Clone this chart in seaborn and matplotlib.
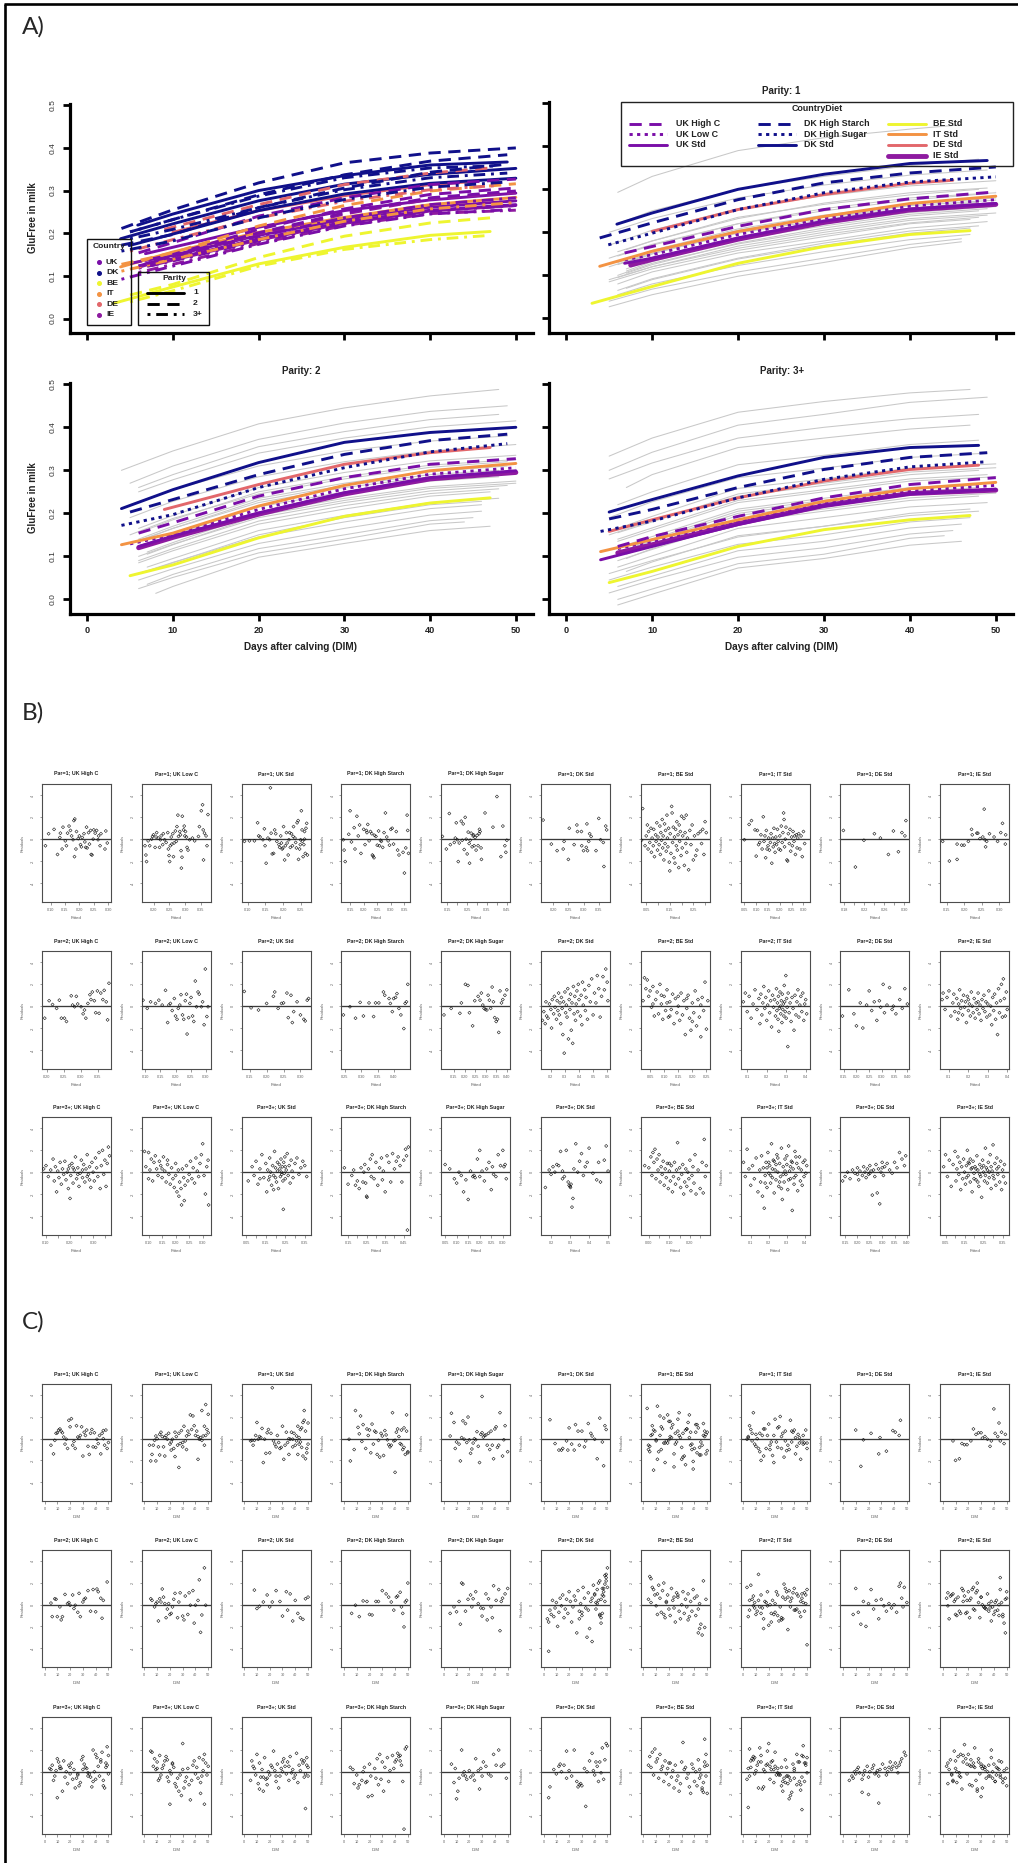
import numpy as np
import pandas as pd
import matplotlib
matplotlib.use("Agg")
import matplotlib.pyplot as plt
import seaborn as sns
from matplotlib.patches import Rectangle

sns.set_style("white")
plt.rcParams["font.family"] = ["Liberation Sans", "DejaVu Sans"]

# ---------------------------------------------------------------- categories
DIETS = ["UK High C", "UK Low C", "UK Std", "DK High Starch", "DK High Sugar",
         "DK Std", "BE Std", "IT Std", "DE Std", "IE Std"]
DIET_COUNTRY = ["UK", "UK", "UK", "DK", "DK", "DK", "BE", "IT", "DE", "IE"]
DIET_STYLE = ["dash", "dot", "solid", "dash", "dot", "solid", "solid", "solid", "solid", "solid"]
COUNTRIES = ["UK", "DK", "BE", "IT", "DE", "IE"]
PARITY_LABELS = ["1", "2", "3+"]

# ---------------------------------------------------------------- panel A : mean curves (DIM, GluFree)
P1_DIM = [[6.8, 10, 20, 30, 40, 50], [6.8, 10, 20, 30, 40, 50], [6.8, 10, 20, 30, 40, 50],
          [3.9, 10, 20, 30, 40, 50], [4.9, 10, 20, 30, 40, 50], [5.9, 10, 20, 30, 40, 49],
          [3, 10, 20, 30, 40, 47], [3.9, 10, 20, 30, 40, 50], [10, 20, 30, 40, 45],
          [7.5, 10, 20, 30, 40, 50]]
P1_VAL = [[0.152, 0.167, 0.214, 0.253, 0.278, 0.294], [0.136, 0.148, 0.195, 0.232, 0.261, 0.276],
          [0.128, 0.140, 0.187, 0.226, 0.254, 0.267], [0.187, 0.222, 0.276, 0.315, 0.338, 0.352],
          [0.171, 0.198, 0.253, 0.292, 0.317, 0.329], [0.219, 0.245, 0.300, 0.335, 0.360, 0.367],
          [0.035, 0.074, 0.128, 0.167, 0.195, 0.204], [0.121, 0.156, 0.202, 0.237, 0.267, 0.284],
          [0.202, 0.253, 0.288, 0.314, 0.321], [0.124, 0.137, 0.184, 0.223, 0.252, 0.265]]
P2_DIM = [[6, 10, 20, 30, 40, 50], [5, 10, 20, 30, 40, 50], [6, 10, 20, 30, 40, 50],
          [5, 10, 20, 30, 40, 49], [4, 10, 20, 30, 40, 49], [4, 10, 20, 30, 40, 50],
          [5, 10, 20, 30, 40, 47], [4, 10, 20, 30, 40, 50], [9, 20, 30, 40, 47],
          [6, 10, 20, 30, 40, 50]]
P2_VAL = [[0.154, 0.178, 0.240, 0.283, 0.314, 0.327], [0.129, 0.150, 0.209, 0.257, 0.291, 0.306],
          [0.123, 0.147, 0.201, 0.248, 0.283, 0.299], [0.203, 0.232, 0.290, 0.337, 0.369, 0.384],
          [0.172, 0.197, 0.260, 0.306, 0.343, 0.362], [0.211, 0.255, 0.318, 0.365, 0.388, 0.400],
          [0.055, 0.080, 0.143, 0.193, 0.224, 0.236], [0.127, 0.154, 0.217, 0.265, 0.299, 0.316],
          [0.209, 0.267, 0.314, 0.341, 0.353], [0.120, 0.144, 0.198, 0.245, 0.280, 0.295]]
P3_DIM = [[6, 10, 20, 30, 40, 50], [6, 10, 20, 30, 40, 50], [4, 10, 20, 30, 40, 50],
          [5, 10, 20, 30, 40, 49], [4, 10, 20, 30, 40, 49], [5, 10, 20, 30, 40, 48],
          [5, 10, 20, 30, 40, 47], [4, 10, 20, 30, 40, 50], [5, 10, 20, 30, 40, 48],
          [6, 10, 20, 30, 40, 50]]
P3_VAL = [[0.123, 0.146, 0.193, 0.236, 0.267, 0.283], [0.118, 0.135, 0.182, 0.223, 0.252, 0.265],
          [0.092, 0.123, 0.174, 0.217, 0.245, 0.256], [0.187, 0.209, 0.260, 0.302, 0.330, 0.341],
          [0.158, 0.182, 0.236, 0.279, 0.308, 0.320], [0.203, 0.232, 0.287, 0.330, 0.353, 0.358],
          [0.039, 0.065, 0.123, 0.162, 0.185, 0.195], [0.111, 0.139, 0.185, 0.228, 0.257, 0.272],
          [0.158, 0.185, 0.236, 0.275, 0.302, 0.312], [0.108, 0.127, 0.176, 0.218, 0.246, 0.254]]

# individual cow curves (grey): first / last DIM and values at first DIM, 10, 20, 30, 40, last DIM
GRAY_MID_DIM = [10, 20, 30, 40]
P1_GRAY_SPAN = [[6, 46], [6, 48], [5, 49], [5, 50], [6, 48], [5, 49], [6, 50], [5, 48], [7, 49],
                [6, 50], [5, 48], [6, 49], [7, 47], [6, 47], [5, 46], [5, 46], [7, 50], [8, 50],
                [6, 50], [7, 48], [6, 49], [5, 47], [6, 50], [7, 49], [6, 48]]
P1_GRAY_VAL = [[0.293, 0.33, 0.39, 0.42, 0.44, 0.45], [0.22, 0.25, 0.30, 0.33, 0.355, 0.37],
               [0.20, 0.232, 0.28, 0.31, 0.333, 0.345], [0.17, 0.205, 0.255, 0.285, 0.308, 0.32],
               [0.155, 0.18, 0.235, 0.265, 0.287, 0.30], [0.14, 0.172, 0.22, 0.25, 0.275, 0.29],
               [0.13, 0.158, 0.208, 0.24, 0.265, 0.28], [0.12, 0.152, 0.198, 0.23, 0.256, 0.27],
               [0.11, 0.132, 0.183, 0.215, 0.242, 0.255], [0.10, 0.128, 0.173, 0.205, 0.232, 0.245],
               [0.09, 0.12, 0.163, 0.195, 0.222, 0.235], [0.08, 0.108, 0.152, 0.18, 0.21, 0.225],
               [0.07, 0.09, 0.138, 0.17, 0.198, 0.21], [0.055, 0.08, 0.123, 0.155, 0.183, 0.195],
               [0.04, 0.068, 0.108, 0.14, 0.172, 0.185], [0.027, 0.055, 0.098, 0.13, 0.164, 0.178],
               [0.115, 0.137, 0.188, 0.22, 0.246, 0.26], [0.135, 0.15, 0.205, 0.235, 0.256, 0.265],
               [0.125, 0.15, 0.20, 0.235, 0.262, 0.275], [0.105, 0.125, 0.175, 0.21, 0.238, 0.25],
               [0.095, 0.12, 0.168, 0.20, 0.228, 0.24], [0.085, 0.115, 0.158, 0.19, 0.22, 0.23],
               [0.145, 0.17, 0.22, 0.255, 0.28, 0.292], [0.16, 0.18, 0.232, 0.268, 0.292, 0.303],
               [0.065, 0.092, 0.14, 0.175, 0.203, 0.215]]
P2_GRAY_SPAN = [[4, 48], [5, 49], [6, 48], [6, 50], [5, 49], [5, 50], [6, 50], [5, 49], [6, 48], [6, 48],
                [7, 50], [6, 49], [6, 47], [7, 48], [6, 46], [6, 46], [7, 45], [6, 44], [8, 47],
                [6, 49], [7, 50], [6, 48], [5, 47], [6, 50], [7, 46]]
P2_GRAY_VAL = [[0.30, 0.345, 0.408, 0.445, 0.473, 0.488], [0.27, 0.31, 0.372, 0.41, 0.437, 0.45],
               [0.26, 0.29, 0.355, 0.39, 0.418, 0.43], [0.25, 0.278, 0.34, 0.375, 0.401, 0.415],
               [0.22, 0.255, 0.31, 0.345, 0.368, 0.38], [0.19, 0.228, 0.285, 0.32, 0.345, 0.36],
               [0.165, 0.195, 0.26, 0.295, 0.322, 0.335], [0.15, 0.188, 0.245, 0.28, 0.307, 0.32],
               [0.135, 0.165, 0.23, 0.265, 0.29, 0.30], [0.12, 0.15, 0.215, 0.25, 0.275, 0.285],
               [0.11, 0.132, 0.20, 0.235, 0.262, 0.275], [0.10, 0.128, 0.19, 0.225, 0.252, 0.265],
               [0.085, 0.113, 0.175, 0.21, 0.24, 0.25], [0.075, 0.095, 0.16, 0.195, 0.225, 0.235],
               [0.06, 0.086, 0.145, 0.18, 0.211, 0.22], [0.045, 0.071, 0.13, 0.165, 0.196, 0.205],
               [0.035, 0.058, 0.118, 0.15, 0.183, 0.19], [0.025, 0.051, 0.108, 0.14, 0.175, 0.18],
               [0.014, 0.03, 0.098, 0.13, 0.16, 0.17], [0.14, 0.17, 0.235, 0.27, 0.297, 0.31],
               [0.105, 0.127, 0.195, 0.23, 0.258, 0.27], [0.09, 0.118, 0.182, 0.218, 0.246, 0.257],
               [0.13, 0.165, 0.225, 0.26, 0.285, 0.295], [0.155, 0.185, 0.25, 0.285, 0.312, 0.325],
               [0.065, 0.085, 0.15, 0.19, 0.22, 0.228]]
P3_GRAY_SPAN = [[5, 47], [5, 49], [5, 48], [7, 47], [6, 48], [5, 49], [6, 50], [5, 48], [6, 50], [6, 49],
                [7, 50], [6, 48], [6, 49], [7, 48], [5, 47], [6, 46], [5, 45], [6, 44], [6, 46],
                [6, 49], [7, 50], [6, 48], [5, 47], [6, 50], [8, 48]]
P3_GRAY_VAL = [[0.333, 0.375, 0.435, 0.46, 0.48, 0.488], [0.30, 0.342, 0.405, 0.43, 0.458, 0.47],
               [0.28, 0.317, 0.375, 0.40, 0.42, 0.43], [0.26, 0.29, 0.353, 0.375, 0.396, 0.405],
               [0.22, 0.25, 0.313, 0.335, 0.36, 0.37], [0.19, 0.227, 0.283, 0.305, 0.33, 0.34],
               [0.165, 0.193, 0.258, 0.28, 0.305, 0.315], [0.15, 0.183, 0.24, 0.265, 0.29, 0.30],
               [0.135, 0.161, 0.225, 0.25, 0.275, 0.285], [0.12, 0.146, 0.21, 0.235, 0.26, 0.27],
               [0.105, 0.128, 0.195, 0.22, 0.245, 0.255], [0.09, 0.116, 0.18, 0.205, 0.23, 0.24],
               [0.075, 0.101, 0.165, 0.19, 0.215, 0.225], [0.065, 0.087, 0.148, 0.17, 0.195, 0.205],
               [0.045, 0.075, 0.128, 0.15, 0.18, 0.19], [0.03, 0.054, 0.113, 0.135, 0.166, 0.175],
               [0.015, 0.045, 0.098, 0.12, 0.152, 0.16], [0.0, 0.024, 0.083, 0.105, 0.142, 0.148],
               [-0.013, 0.012, 0.073, 0.095, 0.126, 0.135], [0.14, 0.166, 0.23, 0.255, 0.28, 0.29],
               [0.095, 0.118, 0.185, 0.21, 0.236, 0.247], [0.11, 0.136, 0.20, 0.225, 0.25, 0.26],
               [0.06, 0.09, 0.145, 0.17, 0.20, 0.21], [0.155, 0.18, 0.245, 0.27, 0.296, 0.306],
               [0.125, 0.14, 0.205, 0.23, 0.256, 0.266]]

# ---------------------------------------------------------------- panels B/C : residual points (fitted, DIM, residual)
P1_UK_HIGH_C = [(0.082,5,-0.6),(0.093,9,0.5),(0.112,12,0.9),(0.124,7,-1.4),(0.132,15,0.15),(0.134,10,0.55),(0.140,18,-0.9),(0.143,20,1.1),(0.151,8,-0.15),(0.155,22,-0.6),(0.159,14,0.55),(0.164,25,1.2),(0.169,11,0.8),(0.173,28,0.3),(0.178,17,-0.05),(0.181,19,1.7),(0.184,21,1.85),(0.183,30,-1.6),(0.188,24,-0.9),(0.190,13,0.7),(0.196,27,0.05),(0.200,32,0.3),(0.204,16,-0.5),(0.207,34,-0.7),(0.210,26,0.15),(0.216,36,0.5),(0.219,23,-0.25),(0.222,38,-0.75),(0.225,29,1.1),(0.227,40,-0.8),(0.232,31,0.6),(0.235,42,-0.45),(0.239,33,0.8),(0.241,44,-1.4),(0.244,35,-1.45),(0.248,46,0.0),(0.250,37,0.85),(0.255,39,0.55),(0.260,48,0.8),(0.265,41,-0.05),(0.267,43,0.3),(0.272,47,-0.6),(0.275,45,0.5),(0.289,49,-0.9),(0.297,50,-0.35),(0.292,46,0.75)]
P1_UK_LOW_C = [(0.173,4,-0.6),(0.176,6,-1.45),(0.178,5,-2.05),(0.183,8,-0.15),(0.188,7,-0.6),(0.194,10,0.0),(0.197,9,0.25),(0.200,12,0.4),(0.205,11,-0.75),(0.208,14,0.2),(0.210,13,0.6),(0.215,16,0.1),(0.219,15,-0.75),(0.222,18,-0.05),(0.224,17,0.3),(0.229,20,-0.5),(0.231,19,0.5),(0.235,22,-0.05),(0.240,21,-0.3),(0.245,24,0.6),(0.247,23,-0.9),(0.249,12,-1.5),(0.251,9,-2.05),(0.253,26,-0.6),(0.256,25,0.2),(0.258,28,-0.45),(0.261,27,0.5),(0.263,16,-1.6),(0.265,30,-0.35),(0.269,29,0.75),(0.272,32,-0.2),(0.274,31,1.15),(0.277,36,2.2),(0.279,33,0.25),(0.283,34,0.7),(0.285,35,0.4),(0.287,21,-1.05),(0.288,27,-2.65),(0.290,24,-1.65),(0.291,38,2.1),(0.295,37,0.85),(0.297,39,1.2),(0.299,40,0.3),(0.301,41,0.7),(0.304,42,0.2),(0.306,30,-0.75),(0.309,33,-1.0),(0.314,43,-0.05),(0.323,44,0.1),(0.330,45,-0.15),(0.342,46,0.25),(0.345,47,1.15),(0.351,45,2.6),(0.355,48,3.15),(0.357,49,0.85),(0.358,42,-1.9),(0.361,50,0.55),(0.366,48,0.3),(0.369,47,-0.6),(0.372,50,2.25)]
P1_UK_STD = [(0.091,5,-0.2),(0.105,8,-0.15),(0.119,6,-0.15),(0.128,10,1.5),(0.131,9,0.3),(0.135,12,0.2),(0.143,11,-0.05),(0.147,14,0.95),(0.149,7,-0.6),(0.152,15,-2.2),(0.157,13,0.1),(0.162,16,-0.05),(0.164,22,4.7),(0.166,18,0.55),(0.169,17,-1.35),(0.173,20,-1.3),(0.176,19,0.85),(0.179,21,0.5),(0.182,23,-0.2),(0.188,24,-0.5),(0.190,25,-0.75),(0.193,26,0.3),(0.195,27,-0.35),(0.197,28,-0.9),(0.199,29,-0.8),(0.201,30,1.15),(0.204,31,-1.9),(0.206,32,-0.6),(0.209,33,0.6),(0.211,34,-0.35),(0.214,35,-1.45),(0.216,36,-0.05),(0.218,37,0.6),(0.220,38,-0.75),(0.223,39,0.5),(0.226,40,-0.6),(0.228,41,0.25),(0.229,42,1.15),(0.233,43,0.1),(0.235,44,-0.3),(0.237,45,-0.8),(0.239,46,1.5),(0.242,47,1.7),(0.243,48,-1.85),(0.246,49,-0.9),(0.248,50,-0.5),(0.249,38,-0.05),(0.251,47,2.6),(0.253,44,0.85),(0.254,41,-0.2),(0.256,46,-1.6),(0.258,43,-0.5),(0.260,48,0.7),(0.260,35,0.0),(0.262,49,-1.3),(0.264,45,1.0),(0.266,50,1.45),(0.268,42,-1.45)]
P1_DK_HIGH_STARCH = [(0.125,4,-0.05),(0.128,8,-1.0),(0.132,5,-2.05),(0.145,12,0.45),(0.150,9,2.6),(0.155,14,-0.25),(0.165,11,1.05),(0.168,17,-0.9),(0.175,13,2.1),(0.180,19,0.3),(0.185,15,1.3),(0.190,21,-1.3),(0.200,18,0.9),(0.205,23,-0.5),(0.210,20,0.8),(0.212,25,0.6),(0.215,22,1.35),(0.220,27,-0.15),(0.225,24,0.7),(0.230,29,0.5),(0.232,26,-1.45),(0.235,31,-1.55),(0.238,28,-1.7),(0.240,33,0.35),(0.245,30,0.25),(0.250,35,-0.55),(0.255,32,0.75),(0.258,37,-0.6),(0.262,34,-0.1),(0.265,39,-0.2),(0.270,36,-0.75),(0.275,41,0.6),(0.280,38,2.4),(0.285,43,0.2),(0.290,40,-0.15),(0.295,45,-0.55),(0.300,42,0.9),(0.305,47,1.0),(0.310,44,-0.45),(0.320,49,0.7),(0.325,46,-1.0),(0.330,48,-1.45),(0.345,50,-1.2),(0.350,40,-3.1),(0.355,47,-0.8),(0.360,49,2.2),(0.362,45,0.8),(0.365,50,-1.3)]
P1_DK_HIGH_SUGAR = [(0.125,5,0.25),(0.145,9,-0.9),(0.160,6,2.35),(0.165,12,-0.5),(0.185,10,-0.3),(0.190,14,0.1),(0.195,8,1.5),(0.200,16,-0.05),(0.205,13,-2.05),(0.210,18,-0.35),(0.220,15,1.65),(0.225,20,-0.1),(0.230,17,1.4),(0.235,22,-0.95),(0.240,19,2.0),(0.245,24,0.0),(0.250,21,-1.35),(0.255,26,0.65),(0.260,23,-0.4),(0.262,28,-2.2),(0.265,25,-0.1),(0.270,30,0.55),(0.275,27,-0.7),(0.280,32,0.3),(0.282,29,0.4),(0.285,34,-0.6),(0.290,31,0.15),(0.295,36,-1.0),(0.300,33,0.35),(0.305,38,-0.6),(0.310,35,0.5),(0.312,40,0.9),(0.315,37,0.7),(0.320,42,-0.8),(0.322,39,-1.85),(0.340,44,2.4),(0.380,41,1.1),(0.400,30,3.9),(0.420,46,-1.6),(0.430,48,1.2),(0.440,43,-0.6),(0.445,50,-1.2),(0.450,47,-0.1)]
P1_DK_STD = [(0.167,5,1.75),(0.194,9,-0.45),(0.213,12,-1.05),(0.233,15,-0.9),(0.236,18,-0.2),(0.250,42,-1.85),(0.253,20,1.0),(0.269,22,-0.5),(0.278,25,1.3),(0.280,27,0.7),(0.293,30,0.7),(0.294,28,-0.6),(0.300,24,-1.05),(0.309,32,-0.75),(0.311,35,1.4),(0.313,19,-1.05),(0.317,33,-0.2),(0.320,37,0.5),(0.325,38,0.25),(0.341,14,-1.05),(0.350,44,1.9),(0.356,40,-0.05),(0.365,46,-0.3),(0.367,47,-2.5),(0.373,48,1.2),(0.376,49,0.85)]
P1_BE_STD = [(0.035,3,2.8),(0.03,20,-0.1),(0.045,37,-0.6),(0.05,6,0.3),(0.055,23,1.3),(0.058,40,-0.9),(0.06,9,0.7),(0.065,26,-0.3),(0.07,43,1.0),(0.072,12,-1.2),(0.075,29,0.1),(0.08,46,-0.6),(0.082,15,0.9),(0.085,32,-1.6),(0.09,49,0.4),(0.092,18,-0.2),(0.095,35,1.5),(0.098,4,-1.0),(0.1,21,0.2),(0.105,38,-0.5),(0.108,7,1.2),(0.11,24,-1.4),(0.112,41,0.6),(0.115,10,-0.1),(0.118,27,1.8),(0.12,44,-0.8),(0.122,13,0.3),(0.125,30,-1.9),(0.128,47,1.4),(0.13,16,-0.4),(0.132,33,0.8),(0.135,50,-1.1),(0.138,19,2.2),(0.14,36,0.1),(0.142,5,-0.7),(0.145,22,1.0),(0.148,39,-2.1),(0.15,8,-2.9),(0.152,25,0.5),(0.155,42,-1.3),(0.158,11,3.0),(0.16,28,2.4),(0.162,45,-0.3),(0.165,14,1.1),(0.168,31,-1.7),(0.17,48,0.2),(0.172,17,-2.2),(0.175,34,0.9),(0.178,4,-0.6),(0.18,21,1.6),(0.182,38,-1.0),(0.185,7,0.4),(0.188,24,-2.6),(0.19,41,1.3),(0.192,10,-0.2),(0.195,27,0.7),(0.198,44,-1.5),(0.2,13,2.1),(0.203,30,-0.8),(0.205,47,0.3),(0.21,16,1.9),(0.212,33,-2.4),(0.215,50,0.6),(0.218,19,-0.4),(0.22,36,2.2),(0.222,5,-1.2),(0.225,22,0.1),(0.23,39,-2.8),(0.235,8,0.8),(0.24,25,-0.5),(0.245,42,1.3),(0.25,11,-1.9),(0.255,28,0.3),(0.26,45,-1.5),(0.265,14,-1.0),(0.27,31,0.5),(0.28,48,0.7),(0.285,17,-0.4),(0.29,34,0.9),(0.295,49,-1.4),(0.3,20,1.6),(0.305,37,0.6)]
P1_IT_STD = [(0.05,3,-0.05),(0.07,20,1.35),(0.08,37,1.7),(0.095,6,0.85),(0.1,23,-1.55),(0.105,40,0.8),(0.11,9,-0.5),(0.115,26,-0.3),(0.12,43,0.4),(0.125,12,-0.9),(0.13,29,2.05),(0.133,46,-0.2),(0.137,15,0.3),(0.14,32,-1.7),(0.143,49,0.8),(0.146,18,-0.9),(0.15,35,-0.6),(0.153,4,0.1),(0.156,21,-1.0),(0.16,38,-0.3),(0.163,7,0.5),(0.166,24,-2.2),(0.17,41,0.1),(0.172,10,-0.7),(0.175,27,1.0),(0.178,44,-0.4),(0.18,13,-1.2),(0.183,30,0.2),(0.186,47,-0.5),(0.19,16,0.9),(0.193,33,-0.2),(0.196,50,-0.9),(0.2,19,0.3),(0.203,36,-1.0),(0.206,5,1.2),(0.21,22,-0.3),(0.213,39,0.6),(0.216,8,2.4),(0.218,25,1.8),(0.22,42,-0.7),(0.223,11,0.0),(0.226,28,1.1),(0.23,45,-1.9),(0.233,14,-2.0),(0.236,31,0.5),(0.24,48,-0.4),(0.243,17,0.9),(0.246,34,-1.1),(0.25,4,0.2),(0.253,21,-0.6),(0.256,38,0.7),(0.26,7,-0.2),(0.263,24,0.3),(0.266,41,-1.4),(0.27,10,0.4),(0.273,27,-0.8),(0.276,44,0.1),(0.28,13,0.5),(0.285,30,-0.9),(0.29,47,0.3),(0.295,16,-1.6),(0.3,33,0.7),(0.305,50,-0.4)]
P1_DE_STD = [(0.178,10,0.8),(0.202,14,-2.55),(0.219,16,-0.1),(0.24,22,0.5),(0.252,29,0.1),(0.268,28,-1.4),(0.278,39,0.75),(0.288,34,-1.15),(0.295,41,0.6),(0.301,44,0.3),(0.303,45,1.7)]
P1_IE_STD = [(0.139,8,-0.2),(0.158,10,-2.0),(0.18,13,-1.85),(0.18,15,-0.45),(0.193,17,-0.55),(0.2,19,-0.55),(0.212,22,-0.2),(0.221,24,0.9),(0.223,26,0.4),(0.236,28,0.55),(0.239,30,0.55),(0.245,31,0.05),(0.253,33,0.2),(0.257,40,2.75),(0.259,35,-0.05),(0.261,37,-0.7),(0.264,38,-0.2),(0.272,41,0.5),(0.285,43,0.2),(0.295,45,-0.2),(0.304,46,0.6),(0.309,44,1.45),(0.317,48,-0.45),(0.318,49,0.4)]

P2_UK_HIGH_C = [(0.194,6,-1.1),(0.207,9,0.5),(0.217,5,0.15),(0.229,12,-0.2),(0.237,8,0.55),(0.243,14,-1.1),(0.252,10,-1.1),(0.258,13,-1.4),(0.272,16,0.95),(0.276,18,0.1),(0.282,20,-0.05),(0.287,22,0.9),(0.291,19,0.2),(0.301,24,-0.05),(0.307,26,-0.7),(0.311,23,-0.35),(0.315,28,-1.1),(0.321,30,0.25),(0.327,27,1.05),(0.330,32,0.6),(0.334,34,1.3),(0.340,31,0.5),(0.344,36,-0.6),(0.349,38,1.4),(0.354,40,-0.65),(0.359,42,1.2),(0.365,44,0.6),(0.369,41,1.45),(0.375,46,0.4),(0.379,45,-1.25),(0.383,49,2.1)]
P2_UK_LOW_C = [(0.093,5,0.55),(0.107,8,-0.2),(0.118,6,0.4),(0.134,10,0.25),(0.145,12,0.55),(0.156,9,0.1),(0.167,14,1.45),(0.174,11,-1.5),(0.178,16,0.1),(0.183,13,0.25),(0.189,18,-0.4),(0.196,15,0.7),(0.200,20,-0.9),(0.205,17,-1.2),(0.209,22,-0.2),(0.214,19,0.1),(0.218,24,1.05),(0.223,21,-0.8),(0.227,26,-1.2),(0.232,23,0.5),(0.236,28,1.1),(0.238,44,-2.55),(0.243,30,-1.05),(0.247,27,0.25),(0.251,32,0.8),(0.256,34,-0.9),(0.260,31,-1.4),(0.265,43,2.3),(0.269,36,-0.05),(0.274,38,1.3),(0.278,35,1.1),(0.285,40,-0.05),(0.289,42,0.4),(0.294,39,-1.7),(0.298,47,3.4),(0.303,45,-0.95),(0.307,48,-0.05)]
P2_UK_STD = [(0.134,8,1.35),(0.154,12,-0.15),(0.176,10,-0.35),(0.200,15,0.25),(0.220,18,0.9),(0.224,25,1.3),(0.234,20,-0.2),(0.244,22,0.25),(0.250,28,0.3),(0.260,33,1.2),(0.264,30,-1.05),(0.272,36,1.0),(0.276,38,-1.5),(0.280,34,-0.5),(0.290,40,0.4),(0.300,42,-0.8),(0.310,44,-1.2),(0.314,46,-1.35),(0.320,48,0.55),(0.324,50,0.7)]
P2_DK_HIGH_STARCH = [(0.246,6,-0.8),(0.266,9,-0.05),(0.283,12,-1.1),(0.297,15,0.35),(0.307,20,-0.9),(0.324,18,0.3),(0.338,22,-0.95),(0.344,25,0.3),(0.354,27,0.3),(0.368,30,1.3),(0.372,33,1.0),(0.385,35,0.7),(0.389,37,0.25),(0.395,39,-0.5),(0.399,41,0.7),(0.405,42,0.8),(0.409,44,1.15),(0.415,45,-0.2),(0.421,46,-0.8),(0.430,47,-2.05),(0.434,48,0.25),(0.438,49,0.4),(0.442,50,2.0)]
P2_DK_HIGH_SUGAR = [(0.103,5,-0.8),(0.137,8,-0.2),(0.178,10,-0.65),(0.185,12,0.3),(0.204,14,2.0),(0.216,15,1.9),(0.223,17,-0.6),(0.238,13,-1.8),(0.248,19,0.5),(0.264,21,0.9),(0.273,23,0.55),(0.279,25,1.2),(0.286,27,0.1),(0.292,22,-0.2),(0.298,29,-0.3),(0.305,31,-0.35),(0.311,33,1.0),(0.317,35,0.55),(0.323,37,-0.2),(0.330,39,1.75),(0.336,41,0.4),(0.342,30,-1.05),(0.349,34,-1.4),(0.355,38,-1.2),(0.361,44,-2.4),(0.367,43,1.4),(0.374,45,0.3),(0.380,46,0.6),(0.390,48,1.0),(0.399,50,1.5)]
P2_DK_STD = [(0.14,3,-1.3),(0.15,5,-0.5),(0.16,4,-1.6),(0.165,7,0.4),(0.17,6,-0.9),(0.18,8,-1.1),(0.19,10,0.2),(0.2,9,-0.3),(0.205,11,-2.0),(0.21,13,0.6),(0.22,12,-0.7),(0.225,15,0.9),(0.23,14,-0.1),(0.24,16,-1.2),(0.245,18,0.5),(0.25,17,-0.4),(0.255,20,1.2),(0.26,19,-0.8),(0.265,21,0.3),(0.27,22,-1.6),(0.275,24,0.8),(0.28,23,-0.2),(0.285,26,-2.6),(0.29,25,0.4),(0.295,4,-4.3),(0.3,27,1.3),(0.305,28,-0.6),(0.31,29,0.1),(0.315,30,-1.0),(0.32,31,1.6),(0.325,34,-3.0),(0.33,32,0.6),(0.335,33,-0.3),(0.34,35,1.1),(0.345,36,-2.2),(0.35,37,0.3),(0.355,38,-3.4),(0.36,39,1.8),(0.365,30,-0.7),(0.37,40,0.9),(0.375,28,-1.3),(0.38,41,0.2),(0.385,42,1.4),(0.39,35,-0.5),(0.395,43,2.0),(0.4,38,0.6),(0.41,44,-0.9),(0.415,40,1.0),(0.42,45,-1.7),(0.425,44,2.2),(0.43,42,0.1),(0.44,46,1.5),(0.445,41,-0.4),(0.45,47,0.8),(0.46,45,-1.2),(0.47,48,1.9),(0.48,43,0.4),(0.49,49,2.5),(0.5,46,-0.8),(0.51,47,1.2),(0.52,48,0.3),(0.53,49,2.8),(0.54,50,1.6),(0.55,44,-1.0),(0.56,46,0.9),(0.57,48,2.7),(0.58,47,1.5),(0.59,50,3.4),(0.6,49,2.2),(0.605,45,0.5)]
P2_BE_STD = [(0.025,4,0.5),(0.03,5,2.6),(0.035,7,1.6),(0.04,6,2.4),(0.045,9,0.9),(0.05,8,1.4),(0.055,10,-0.1),(0.06,12,1.8),(0.065,11,-0.9),(0.07,13,0.6),(0.075,15,1.3),(0.08,14,-0.7),(0.085,16,2.0),(0.09,18,0.2),(0.095,17,-1.2),(0.1,19,0.9),(0.105,20,-0.4),(0.11,22,1.5),(0.115,21,-1.0),(0.12,23,0.4),(0.125,24,-0.3),(0.13,26,1.1),(0.135,25,-1.6),(0.14,27,0.7),(0.145,28,-0.6),(0.15,30,0.0),(0.155,29,-1.3),(0.16,31,1.2),(0.165,32,-0.8),(0.17,33,0.5),(0.175,43,-2.6),(0.18,34,-0.2),(0.185,35,1.0),(0.19,36,-1.1),(0.195,44,-2.2),(0.2,37,0.3),(0.205,38,-0.6),(0.21,39,1.4),(0.215,45,-1.8),(0.22,40,0.6),(0.225,41,-1.0),(0.23,46,-2.8),(0.235,42,0.8),(0.24,43,-0.4),(0.245,47,2.2),(0.25,48,-2.1),(0.255,49,0.5),(0.18,24,0.7),(0.12,16,-0.9),(0.09,11,1.0),(0.2,35,-1.4),(0.15,27,0.9),(0.11,18,0.3),(0.06,6,0.2),(0.23,44,0.1)]
P2_IT_STD = [(0.08,12,0.4),(0.09,34,1.2),(0.1,5,-0.5),(0.11,27,0.9),(0.12,45,-1.1),(0.13,18,0.2),(0.14,40,1.5),(0.15,9,-0.3),(0.16,31,0.7),(0.165,22,-1.6),(0.17,48,1.1),(0.175,14,-0.8),(0.18,37,0.3),(0.185,6,1.8),(0.19,29,-0.2),(0.195,43,0.8),(0.2,16,-1.3),(0.205,25,0.1),(0.21,50,1.4),(0.215,11,-0.6),(0.22,33,0.5),(0.225,20,-1.9),(0.23,46,1.0),(0.235,8,-0.1),(0.24,38,0.6),(0.245,24,-0.9),(0.25,3,1.6),(0.252,42,-0.4),(0.255,17,0.3),(0.258,30,-1.2),(0.26,49,0.9),(0.262,35,-2.3),(0.265,13,-0.2),(0.268,36,1.3),(0.27,21,0.0),(0.272,44,-0.7),(0.275,7,0.5),(0.278,28,-1.5),(0.28,39,1.1),(0.282,15,-0.3),(0.285,47,0.2),(0.288,10,-0.9),(0.29,32,1.9),(0.292,23,0.4),(0.295,41,-0.5),(0.298,12,2.8),(0.3,4,-1.1),(0.302,35,0.7),(0.305,19,-0.1),(0.308,50,-3.7),(0.31,26,1.2),(0.315,48,-0.6),(0.32,45,0.3),(0.325,30,-1.4),(0.33,8,0.8),(0.335,37,-0.2),(0.34,16,-2.2),(0.345,42,1.0),(0.35,22,-0.8),(0.355,5,0.4),(0.36,33,1.5),(0.365,27,-1.0),(0.37,49,0.1),(0.375,14,0.9),(0.38,40,-0.5),(0.385,19,1.2),(0.39,31,-1.3),(0.395,9,0.2),(0.4,46,0.6),(0.405,25,-0.7)]
P2_DE_STD = [(0.145,8,-0.9),(0.17,10,1.5),(0.19,12,-0.7),(0.2,14,-1.8),(0.215,16,0.3),(0.225,18,-2.0),(0.24,20,0.1),(0.25,22,1.4),(0.26,24,-0.4),(0.27,26,0.4),(0.28,28,-1.3),(0.29,30,0.5),(0.295,32,-0.1),(0.305,45,2.0),(0.31,34,-0.6),(0.32,36,0.1),(0.33,44,1.7),(0.34,38,-0.3),(0.345,40,0.0),(0.355,42,-0.7),(0.37,46,0.6),(0.38,47,-0.2),(0.39,48,1.6),(0.4,50,0.2)]
P2_IE_STD = [(0.065,3,0.6),(0.07,20,1.2),(0.08,37,-0.3),(0.09,6,0.8),(0.1,23,1.4),(0.11,40,-0.9),(0.12,9,0.3),(0.125,26,1.1),(0.13,43,-0.5),(0.14,12,0.7),(0.145,29,-1.2),(0.15,46,0.2),(0.155,15,1.5),(0.16,32,-0.2),(0.165,49,0.5),(0.17,18,-0.8),(0.175,35,1.0),(0.18,4,-0.1),(0.185,21,0.4),(0.19,38,-1.5),(0.195,7,0.9),(0.2,24,-0.4),(0.205,41,0.2),(0.21,10,-0.9),(0.215,27,1.3),(0.22,44,0.0),(0.225,13,-0.6),(0.23,30,0.7),(0.235,47,-1.1),(0.24,16,0.3),(0.245,33,-0.3),(0.25,50,1.2),(0.255,19,-0.7),(0.26,36,0.1),(0.265,5,-1.3),(0.27,22,0.6),(0.275,39,-0.2),(0.28,8,1.0),(0.285,25,-0.5),(0.29,42,0.4),(0.295,11,-1.0),(0.3,28,0.2),(0.305,45,1.4),(0.31,14,-0.8),(0.315,31,0.0),(0.32,48,-1.7),(0.325,17,0.8),(0.33,34,-0.4),(0.335,4,1.1),(0.34,21,-1.2),(0.345,38,0.3),(0.35,49,-2.6),(0.355,24,1.6),(0.36,41,-0.6),(0.365,10,0.5),(0.37,27,2.0),(0.375,44,-1.0),(0.38,45,2.5),(0.385,30,0.7),(0.39,47,-0.9),(0.395,16,1.3),(0.4,33,-0.3),(0.2,50,0.6),(0.25,19,0.4),(0.15,36,-0.6)]

P3_UK_HIGH_C = [(0.09,4,0.3),(0.1,6,0.6),(0.11,8,-0.4),(0.12,5,0.2),(0.13,10,1.2),(0.135,7,-0.8),(0.14,12,0.5),(0.145,14,-1.8),(0.15,9,0.1),(0.155,16,-0.5),(0.16,11,0.9),(0.165,18,-1.1),(0.17,13,0.3),(0.175,20,-0.2),(0.18,15,1.0),(0.185,22,-0.7),(0.19,17,0.0),(0.195,24,-1.5),(0.2,19,0.6),(0.202,10,-2.4),(0.205,26,-0.3),(0.21,21,0.8),(0.215,28,-1.0),(0.22,23,0.2),(0.225,30,1.4),(0.23,25,-0.6),(0.235,32,0.4),(0.24,27,-1.3),(0.245,34,-0.1),(0.25,29,1.1),(0.255,36,-0.5),(0.26,31,0.7),(0.265,38,-0.9),(0.27,33,0.3),(0.275,40,1.6),(0.28,35,-0.2),(0.285,42,0.5),(0.29,37,-1.4),(0.295,44,0.9),(0.3,39,0.0),(0.305,46,-0.8),(0.31,41,1.3),(0.315,48,0.4),(0.32,43,-0.4),(0.325,45,1.8),(0.33,47,-1.5),(0.335,49,0.6),(0.34,38,2.0),(0.345,50,-0.2),(0.35,44,1.1),(0.355,46,-1.3),(0.36,48,0.8),(0.365,49,2.3),(0.37,50,1.5),(0.215,20,0.4),(0.235,26,-0.2),(0.255,30,0.2),(0.275,34,-0.4),(0.195,12,0.3),(0.285,40,-0.7)]
P3_UK_LOW_C = [(0.085,5,1.9),(0.09,7,0.5),(0.1,6,1.8),(0.105,9,0.2),(0.11,8,1.2),(0.115,11,-0.8),(0.12,10,0.9),(0.125,12,1.5),(0.13,14,0.3),(0.135,13,-0.3),(0.14,16,1.0),(0.145,15,0.6),(0.15,18,-0.5),(0.155,17,1.4),(0.16,20,0.1),(0.165,19,-0.9),(0.17,22,0.7),(0.175,21,-0.2),(0.18,24,-1.1),(0.185,23,0.4),(0.19,26,-0.6),(0.195,25,-1.4),(0.2,28,-0.3),(0.205,27,-1.8),(0.21,30,0.2),(0.212,29,-2.2),(0.215,32,-0.9),(0.22,31,-1.5),(0.222,20,-3.0),(0.225,34,0.3),(0.23,33,-0.5),(0.232,36,-2.6),(0.235,35,-1.2),(0.24,38,0.6),(0.245,37,-0.8),(0.25,40,-0.2),(0.255,39,1.0),(0.26,42,-0.6),(0.265,41,0.4),(0.27,44,-1.0),(0.275,43,1.3),(0.28,46,0.1),(0.285,45,-0.4),(0.29,48,0.8),(0.295,47,1.6),(0.3,30,2.6),(0.305,49,-0.3),(0.31,44,-2.0),(0.315,50,0.5),(0.32,46,1.1),(0.322,47,-3.0),(0.1,12,-0.6),(0.17,18,1.1),(0.2,22,0.8),(0.15,10,0.3)]
P3_UK_STD = [(0.06,5,-0.8),(0.08,7,0.5),(0.09,9,-0.3),(0.1,6,1.0),(0.11,11,-1.1),(0.12,8,0.3),(0.13,10,1.6),(0.14,13,-0.5),(0.15,12,0.8),(0.155,15,-1.8),(0.16,14,0.2),(0.165,17,-0.7),(0.17,16,1.3),(0.175,19,0.0),(0.18,18,-1.2),(0.185,21,0.6),(0.19,20,-0.3),(0.195,23,1.9),(0.2,22,0.4),(0.205,25,-0.9),(0.21,24,0.1),(0.215,27,-1.5),(0.22,26,0.7),(0.222,29,0.3),(0.225,28,-0.4),(0.228,31,1.2),(0.23,30,0.0),(0.232,33,-0.2),(0.235,32,0.5),(0.238,35,-0.8),(0.24,48,-3.4),(0.242,34,0.9),(0.245,37,-0.1),(0.248,36,1.4),(0.25,39,-0.6),(0.255,38,0.2),(0.26,41,1.7),(0.265,40,-0.3),(0.27,43,0.6),(0.275,42,-1.0),(0.28,45,1.1),(0.285,44,0.1),(0.29,47,-0.5),(0.3,46,0.8),(0.31,49,1.3),(0.32,48,-0.2),(0.33,50,0.4),(0.34,47,1.0),(0.35,49,0.6),(0.36,50,-0.4),(0.2,15,-0.5),(0.21,30,0.9),(0.19,12,-1.6),(0.17,25,-0.4),(0.25,35,0.5),(0.12,18,-0.6)]
P3_DK_HIGH_STARCH = [(0.13,5,0.4),(0.15,8,-1.1),(0.17,10,-0.3),(0.18,7,0.2),(0.19,12,-1.2),(0.2,14,-0.8),(0.21,11,-1.5),(0.22,16,0.4),(0.23,18,-0.9),(0.235,15,0.0),(0.24,20,0.7),(0.245,17,-1.0),(0.25,22,-2.2),(0.252,19,-2.3),(0.26,24,0.3),(0.27,26,1.2),(0.275,21,-0.4),(0.28,28,1.6),(0.29,25,-0.6),(0.3,30,0.9),(0.31,27,-1.2),(0.32,32,0.4),(0.33,34,1.3),(0.335,29,-0.7),(0.34,36,0.1),(0.35,31,-1.8),(0.36,38,1.5),(0.37,40,0.9),(0.38,35,-0.9),(0.39,42,1.7),(0.4,39,0.3),(0.41,44,1.0),(0.42,43,1.4),(0.43,45,0.6),(0.44,46,-0.9),(0.45,41,1.1),(0.46,48,2.1),(0.465,44,1.5),(0.47,47,-5.3),(0.475,49,2.3)]
P3_DK_HIGH_SUGAR = [(0.05,6,0.7),(0.07,9,0.3),(0.09,12,-0.6),(0.1,8,-1.0),(0.12,15,-0.3),(0.13,11,-1.8),(0.14,18,-0.7),(0.15,10,-2.5),(0.16,20,0.1),(0.17,17,-0.4),(0.175,23,-0.3),(0.18,21,-0.5),(0.19,25,1.2),(0.2,14,2.0),(0.21,27,0.1),(0.22,24,-0.8),(0.23,29,0.3),(0.24,31,0.9),(0.25,28,-1.6),(0.255,33,0.5),(0.26,35,-0.2),(0.27,37,-0.4),(0.28,39,1.6),(0.29,41,0.6),(0.3,43,2.0),(0.305,45,0.5),(0.31,47,0.7),(0.315,49,-0.6),(0.2,30,-0.4),(0.11,16,0.0)]
P3_DK_STD = [(0.17,5,-1.4),(0.19,8,0.2),(0.2,10,-0.2),(0.21,12,0.5),(0.22,14,0.0),(0.24,16,0.6),(0.25,18,1.9),(0.26,20,0.1),(0.27,22,-0.4),(0.28,24,2.0),(0.29,26,-0.9),(0.295,28,-1.2),(0.3,30,-1.3),(0.302,27,-1.4),(0.305,29,-1.1),(0.31,33,-3.2),(0.315,4,-2.4),(0.32,32,0.3),(0.33,49,2.6),(0.34,34,0.0),(0.35,36,1.0),(0.36,38,1.7),(0.37,40,-0.3),(0.38,42,0.5),(0.39,44,0.9),(0.4,46,2.2),(0.42,45,-0.1),(0.44,47,-0.7),(0.45,41,0.9),(0.46,43,-0.9),(0.48,48,1.1),(0.49,50,2.4),(0.5,39,0.1),(0.23,13,0.7),(0.26,18,-0.6)]
P3_BE_STD = [(-0.02,4,0.6),(0.0,6,0.4),(0.01,5,1.4),(0.015,8,-0.3),(0.02,7,1.8),(0.025,10,0.9),(0.03,9,2.1),(0.035,12,-0.6),(0.04,11,1.2),(0.045,14,0.2),(0.05,13,1.6),(0.055,16,-0.9),(0.06,15,0.5),(0.065,18,-0.2),(0.07,17,1.0),(0.075,20,-1.2),(0.08,19,0.3),(0.085,22,-0.5),(0.09,21,0.8),(0.095,24,-1.5),(0.1,23,0.1),(0.105,26,-0.8),(0.11,25,0.6),(0.115,28,-1.8),(0.12,27,-0.4),(0.125,30,0.9),(0.13,29,-1.1),(0.135,32,0.2),(0.14,31,2.7),(0.145,34,-0.6),(0.15,33,0.4),(0.155,36,-1.4),(0.16,35,-0.2),(0.165,38,0.7),(0.17,37,-2.0),(0.175,40,-0.9),(0.18,39,0.3),(0.185,42,-1.3),(0.19,41,0.0),(0.195,44,-0.6),(0.2,43,1.1),(0.205,46,-1.7),(0.21,45,-0.3),(0.215,48,0.5),(0.22,47,-1.0),(0.225,49,1.6),(0.23,50,-2.0),(0.24,44,0.2),(0.25,46,-1.5),(0.26,48,0.9),(0.265,47,-1.9),(0.27,48,3.0),(0.275,49,-0.4),(0.28,50,0.6),(0.1,20,0.8)]
P3_IT_STD = [(0.06,12,0.9),(0.07,34,-0.4),(0.08,5,2.1),(0.09,27,0.3),(0.1,45,-1.2),(0.11,18,0.6),(0.12,40,-0.6),(0.13,9,1.3),(0.14,31,-1.8),(0.15,22,0.2),(0.155,48,-0.9),(0.16,14,1.5),(0.165,37,-2.2),(0.17,6,0.4),(0.175,4,-3.3),(0.18,29,-0.3),(0.185,43,0.9),(0.19,16,-1.4),(0.195,25,1.8),(0.2,50,-0.1),(0.205,11,0.6),(0.21,33,-1.0),(0.215,20,2.6),(0.22,46,-0.5),(0.225,8,1.1),(0.23,38,-1.9),(0.235,24,0.2),(0.24,3,-0.7),(0.245,42,1.6),(0.25,17,0.0),(0.255,30,-1.3),(0.26,49,0.8),(0.265,35,-0.4),(0.27,13,2.2),(0.275,36,-2.5),(0.28,21,0.5),(0.285,44,-0.9),(0.29,7,1.2),(0.295,28,-0.2),(0.3,39,0.7),(0.305,15,-1.6),(0.31,47,2.4),(0.315,10,0.1),(0.32,32,-0.6),(0.325,23,1.0),(0.33,46,-3.5),(0.335,4,0.3),(0.34,35,-1.1),(0.345,19,1.9),(0.35,26,-0.3),(0.355,48,0.8),(0.36,45,-1.7),(0.365,30,0.4),(0.37,8,1.4),(0.375,37,-0.8),(0.38,16,0.2),(0.385,42,-1.2),(0.39,22,0.9),(0.395,5,-0.4),(0.4,33,1.1),(0.405,27,-0.1),(0.41,49,0.6),(0.2,14,0.9),(0.22,40,0.3),(0.24,19,0.7),(0.26,31,-0.9),(0.28,9,-0.2),(0.3,46,1.5),(0.32,25,0.5),(0.34,36,-0.5),(0.25,50,1.3),(0.27,12,-1.5),(0.29,40,0.1),(0.31,21,-0.7),(0.33,44,0.9),(0.21,28,-0.3),(0.23,6,1.0),(0.35,47,1.4),(0.19,34,0.4),(0.18,24,-1.0)]
P3_DE_STD = [(0.14,5,-0.8),(0.15,7,-0.4),(0.16,9,0.0),(0.17,8,-0.6),(0.18,11,0.2),(0.19,13,-0.1),(0.2,12,0.4),(0.205,15,-0.7),(0.21,17,0.1),(0.22,16,-0.3),(0.225,19,0.5),(0.23,21,0.0),(0.235,20,-0.5),(0.24,23,0.3),(0.245,25,-0.2),(0.25,24,0.6),(0.255,27,0.1),(0.26,20,-2.1),(0.265,29,0.2),(0.27,28,-0.4),(0.275,31,0.7),(0.28,15,-1.9),(0.285,33,0.3),(0.29,28,-2.9),(0.295,35,0.0),(0.3,37,0.9),(0.305,34,-0.3),(0.31,39,0.5),(0.32,41,0.8),(0.33,38,0.2),(0.34,43,-0.1),(0.35,45,0.9),(0.36,42,0.4),(0.37,48,1.8),(0.38,46,1.2),(0.39,44,0.6),(0.395,49,1.5),(0.2,10,-0.2),(0.25,26,-0.1),(0.3,36,0.4)]
P3_IE_STD = [(0.04,3,0.5),(0.05,20,1.6),(0.06,37,-0.4),(0.07,6,1.1),(0.08,23,-1.3),(0.09,40,0.7),(0.1,9,1.9),(0.105,26,-0.8),(0.11,43,0.3),(0.115,12,1.4),(0.12,29,-0.2),(0.125,46,0.9),(0.13,15,-1.6),(0.135,32,0.5),(0.14,49,-0.6),(0.145,18,1.2),(0.15,35,0.0),(0.155,4,-1.1),(0.16,21,0.6),(0.165,38,2.0),(0.17,7,-0.3),(0.175,24,0.8),(0.18,41,-0.9),(0.185,10,0.3),(0.19,27,-1.8),(0.195,44,1.0),(0.2,13,-0.1),(0.205,30,0.5),(0.21,47,-0.7),(0.215,16,1.5),(0.22,33,0.2),(0.225,50,-1.3),(0.23,19,0.7),(0.235,36,-0.4),(0.24,30,-2.3),(0.245,22,1.1),(0.25,39,0.0),(0.255,8,-0.8),(0.26,25,2.2),(0.265,42,0.4),(0.27,11,-1.0),(0.275,28,0.9),(0.28,45,-0.5),(0.285,14,1.6),(0.29,31,-1.5),(0.295,48,0.1),(0.3,17,2.5),(0.305,34,-0.6),(0.31,4,0.8),(0.315,21,-1.2),(0.32,38,1.3),(0.325,7,-0.2),(0.33,24,0.5),(0.335,41,-0.9),(0.34,10,1.0),(0.345,27,-1.6),(0.35,44,0.2),(0.355,13,-0.4),(0.36,30,0.7),(0.365,47,-1.0),(0.17,16,0.9),(0.19,33,0.4),(0.21,50,0.3),(0.23,19,-0.2),(0.25,36,0.6),(0.27,5,0.2),(0.29,22,0.5),(0.2,39,-0.6),(0.22,8,-0.9),(0.24,25,0.4),(0.26,42,-0.3),(0.28,11,0.0),(0.18,28,1.2),(0.3,45,-0.3),(0.16,14,-0.5),(0.32,31,0.3)]

RESID = [
    [P1_UK_HIGH_C, P1_UK_LOW_C, P1_UK_STD, P1_DK_HIGH_STARCH, P1_DK_HIGH_SUGAR, P1_DK_STD, P1_BE_STD, P1_IT_STD, P1_DE_STD, P1_IE_STD],
    [P2_UK_HIGH_C, P2_UK_LOW_C, P2_UK_STD, P2_DK_HIGH_STARCH, P2_DK_HIGH_SUGAR, P2_DK_STD, P2_BE_STD, P2_IT_STD, P2_DE_STD, P2_IE_STD],
    [P3_UK_HIGH_C, P3_UK_LOW_C, P3_UK_STD, P3_DK_HIGH_STARCH, P3_DK_HIGH_SUGAR, P3_DK_STD, P3_BE_STD, P3_IT_STD, P3_DE_STD, P3_IE_STD],
]

# x-axis ranges / ticks of the "Fitted" panels: (lo, hi, ticks, label every k-th tick)
B_AXES = [
    [(0.07, 0.31, [0.10, 0.15, 0.20, 0.25, 0.30], 1), (0.163, 0.381, [0.20, 0.25, 0.30, 0.35], 1),
     (0.083, 0.277, [0.10, 0.15, 0.20, 0.25], 1), (0.118, 0.372, [0.15, 0.20, 0.25, 0.30, 0.35], 1),
     (0.119, 0.467, [0.15, 0.20, 0.25, 0.30, 0.35, 0.40, 0.45], 2), (0.16, 0.387, [0.20, 0.25, 0.30, 0.35], 1),
     (0.027, 0.32, [0.05, 0.10, 0.15, 0.20, 0.25, 0.30], 2), (0.034, 0.326, [0.05, 0.10, 0.15, 0.20, 0.25, 0.30], 1),
     (0.172, 0.31, [0.18, 0.20, 0.22, 0.24, 0.26, 0.28, 0.30], 2), (0.132, 0.328, [0.15, 0.20, 0.25, 0.30], 1)],
    [(0.186, 0.389, [0.20, 0.25, 0.30, 0.35], 1), (0.089, 0.316, [0.10, 0.15, 0.20, 0.25, 0.30], 1),
     (0.126, 0.33, [0.15, 0.20, 0.25, 0.30], 1), (0.24, 0.45, [0.25, 0.30, 0.35, 0.40], 1),
     (0.09, 0.415, [0.15, 0.20, 0.25, 0.30, 0.35, 0.40], 1), (0.13, 0.62, [0.2, 0.3, 0.4, 0.5, 0.6], 1),
     (0.017, 0.262, [0.05, 0.10, 0.15, 0.20, 0.25], 1), (0.066, 0.42, [0.1, 0.2, 0.3, 0.4], 1),
     (0.137, 0.408, [0.15, 0.20, 0.25, 0.30, 0.35, 0.40], 1), (0.055, 0.41, [0.1, 0.2, 0.3, 0.4], 1)],
    [(0.083, 0.376, [0.10, 0.15, 0.20, 0.25, 0.30, 0.35], 2), (0.075, 0.33, [0.10, 0.15, 0.20, 0.25, 0.30], 1),
     (0.026, 0.38, [0.05, 0.10, 0.15, 0.20, 0.25, 0.30, 0.35], 2), (0.114, 0.486, [0.15, 0.20, 0.25, 0.30, 0.35, 0.40, 0.45], 2),
     (0.033, 0.332, [0.05, 0.10, 0.15, 0.20, 0.25, 0.30], 1), (0.147, 0.51, [0.2, 0.3, 0.4, 0.5], 1),
     (-0.039, 0.297, [0.00, 0.05, 0.10, 0.15, 0.20, 0.25], 2), (0.044, 0.426, [0.1, 0.2, 0.3, 0.4], 1),
     (0.131, 0.41, [0.15, 0.20, 0.25, 0.30, 0.35, 0.40], 1), (0.022, 0.385, [0.05, 0.10, 0.15, 0.20, 0.25, 0.30, 0.35], 2)],
]
DIM_TICKS = [0, 10, 20, 30, 40, 50]
RES_TICKS = [-4, -2, 0, 2, 4]

# ---------------------------------------------------------------- styles
COUNTRY_COLOR = {"UK": "#7A0EA8", "DK": "#10108A", "BE": "#EEF530", "IT": "#F39343",
                 "DE": "#E2676B", "IE": "#8E1AA0"}
LS = {"dash": (0, (4.2, 2.6)), "dot": (0, (1.1, 1.5)), "solid": "-"}
PARITY_LS = ["-", (0, (4.2, 2.6)), (0, (1.0, 2.0, 4.0, 2.0))]
GRAY = "#C8C8C8"
W, H = 1018, 1863
fig = plt.figure(figsize=(W / 100, H / 100), dpi=100)


def px_axes(left, top, right, bottom):
    return fig.add_axes([left / W, 1 - bottom / H, (right - left) / W, (bottom - top) / H])


def line(ax, x, y, color, lw, ls, z):
    sns.lineplot(x=list(x), y=list(y), ax=ax, color=color, linewidth=lw, linestyle=ls,
                 estimator=None, sort=False, zorder=z, legend=False)


def style_a(ax, ylab, xlab):
    ax.set_xlim(-2, 52)
    ax.set_ylim(-0.034, 0.503)
    ax.spines["top"].set_visible(False)
    ax.spines["right"].set_visible(False)
    for s in ("left", "bottom"):
        ax.spines[s].set_linewidth(2.3)
        ax.spines[s].set_color("black")
    ax.set_xticks(DIM_TICKS)
    ax.set_yticks([0.0, 0.1, 0.2, 0.3, 0.4, 0.5])
    ax.tick_params(axis="both", direction="out", length=5, width=2, color="black",
                   bottom=True, left=True)
    if ylab:
        ax.set_yticklabels(["0.0", "0.1", "0.2", "0.3", "0.4", "0.5"], rotation=90, va="center",
                           fontsize=6, color="#333333")
        ax.tick_params(axis="y", pad=4.5)
    else:
        ax.set_yticklabels([])
    if xlab:
        ax.set_xticklabels([str(t) for t in DIM_TICKS], fontsize=6.6, fontweight="bold", color="#222222")
        ax.tick_params(axis="x", pad=3.5)
    else:
        ax.set_xticklabels([])
    ax.set_xlabel("")
    ax.set_ylabel("")


# ---------------------------------------------------------------- panel A
ax_all = px_axes(70, 104, 533, 333)
ax_p1 = px_axes(549, 102, 1013, 333)
ax_p2 = px_axes(70, 383, 533, 614)
ax_p3 = px_axes(549, 383, 1013, 614)

CURVES = [(P1_DIM, P1_VAL), (P2_DIM, P2_VAL), (P3_DIM, P3_VAL)]
GRAYS = [(P1_GRAY_SPAN, P1_GRAY_VAL), (P2_GRAY_SPAN, P2_GRAY_VAL), (P3_GRAY_SPAN, P3_GRAY_VAL)]
ORDER = [9, 6, 2, 1, 7, 0, 8, 4, 3, 5]

# combined panel: colour = country, line type = parity
for p, (dims, vals) in enumerate(CURVES):
    for d in ORDER:
        line(ax_all, dims[d], vals[d], COUNTRY_COLOR[DIET_COUNTRY[d]], 2.1, PARITY_LS[p], 3 + p)
style_a(ax_all, True, False)

for p, ax in enumerate([ax_p1, ax_p2, ax_p3]):
    span, gv = GRAYS[p]
    for (s, e), v in zip(span, gv):
        line(ax, [s] + GRAY_MID_DIM + [e], v, GRAY, 0.75, "-", 2)
    dims, vals = CURVES[p]
    for d in ORDER:
        lw = 3.5 if DIETS[d] == "IE Std" else 2.1
        line(ax, dims[d], vals[d], COUNTRY_COLOR[DIET_COUNTRY[d]], lw, LS[DIET_STYLE[d]], 4)
style_a(ax_p1, False, False)
style_a(ax_p2, True, True)
style_a(ax_p3, False, True)

# ---------------------------------------------------------------- panels B and C
B_TOPS = [784, 951, 1117]
C_TOPS = [1384, 1550, 1717]
BOX_W, BOX_H = 69, 118
LEFT0, PITCH = 42, 99.8


def fmt(t, ticks):
    one_dec = all(abs(round(v * 10) - v * 10) < 1e-9 for v in ticks)
    return f"{t:.1f}" if one_dec else f"{t:.2f}"


def style_s(ax, title, xlab):
    ax.set_ylim(-5.75, 5.05)
    ax.axhline(0, color="#3a3a3a", lw=0.95, zorder=1)
    for s in ax.spines.values():
        s.set_visible(True)
        s.set_color("#4d4d4d")
        s.set_linewidth(0.8)
    ax.set_yticks(RES_TICKS)
    ax.set_yticklabels([str(t) for t in RES_TICKS], rotation=90, va="center")
    ax.tick_params(axis="both", direction="out", length=1.8, width=0.45, colors="#606060",
                   labelsize=2.7, bottom=True, left=True)
    ax.tick_params(axis="y", pad=3.2)
    ax.tick_params(axis="x", pad=2.2)
    ax.set_xlabel(xlab, fontsize=3.2, color="#606060", labelpad=3.2)
    ax.set_ylabel("Residuals", fontsize=2.8, color="#606060", labelpad=4.5)
    ax.text(0.5, 1 + 10 / BOX_H, title, transform=ax.transAxes, ha="center", va="center",
            fontsize=3.8, fontweight="bold", color="#222222")


def points(ax, x, y):
    sns.scatterplot(x=x, y=y, ax=ax, marker="D", s=2.6, linewidth=0.4, legend=False, zorder=3)
    coll = ax.collections[-1]
    coll.set_facecolor("none")
    coll.set_edgecolor("#111111")


for r, plab in enumerate(PARITY_LABELS):
    for c, diet in enumerate(DIETS):
        pts = RESID[r][c]
        fit = [q[0] for q in pts]
        dim = [q[1] for q in pts]
        res = [q[2] for q in pts]
        left = LEFT0 + PITCH * c
        title = f"Par={plab}; {diet}"

        axb = px_axes(left, B_TOPS[r], left + BOX_W, B_TOPS[r] + BOX_H)
        points(axb, fit, res)
        lo, hi, ticks, every = B_AXES[r][c]
        axb.set_xlim(lo, hi)
        axb.set_xticks(ticks)
        axb.set_xticklabels([fmt(t, ticks) if i % every == 0 else "" for i, t in enumerate(ticks)])
        style_s(axb, title, "Fitted")

        axc = px_axes(left, C_TOPS[r], left + BOX_W, C_TOPS[r] + BOX_H - 1)
        points(axc, dim, res)
        axc.set_xlim(-2, 52)
        axc.set_xticks(DIM_TICKS)
        axc.set_xticklabels([str(t) for t in DIM_TICKS])
        style_s(axc, title, "DIM")

# ---------------------------------------------------------------- overlay: labels, legends, frame
ov = fig.add_axes([0, 0, 1, 1], zorder=50)
ov.set_xlim(0, W)
ov.set_ylim(H, 0)
ov.axis("off")
ov.patch.set_alpha(0)

ov.plot([4, W], [4, 4], color="black", lw=1.9, solid_capstyle="butt")
ov.plot([5, 5], [4, H], color="black", lw=1.9, solid_capstyle="butt")
for lab, y in [("A)", 27), ("B)", 713), ("C)", 1322)]:
    ov.text(22, y, lab, fontsize=17.5, family=["Lato", "DejaVu Sans"], ha="left", va="center")

ov.text(33, 218, "GluFree in milk", rotation=90, fontsize=7, fontweight="bold", ha="center", va="center", color="#222222")
ov.text(33, 498, "GluFree in milk", rotation=90, fontsize=7, fontweight="bold", ha="center", va="center", color="#222222")
ov.text(301, 647, "Days after calving (DIM)", fontsize=7.2, fontweight="bold", ha="center", va="center", color="#222222")
ov.text(782, 647, "Days after calving (DIM)", fontsize=7.2, fontweight="bold", ha="center", va="center", color="#222222")
ov.text(781, 91, "Parity: 1", fontsize=7, fontweight="bold", ha="center", va="center", color="#222222")
ov.text(301, 371, "Parity: 2", fontsize=7, fontweight="bold", ha="center", va="center", color="#222222")
ov.text(782, 371, "Parity: 3+", fontsize=7, fontweight="bold", ha="center", va="center", color="#222222")

# Country legend
ov.add_patch(Rectangle((87, 239), 44, 86, fill=False, ec="#111111", lw=1.0))
ov.text(109, 246.5, "Country", fontsize=6.1, fontweight="bold", ha="center", va="center", color="#222222")
for i, cn in enumerate(COUNTRIES):
    y = 262 + i * 10.6
    ov.plot([99], [y], marker="o", ms=2.6, color=COUNTRY_COLOR[cn], mec=COUNTRY_COLOR[cn])
    ov.text(106, y, cn, fontsize=6.1, fontweight="bold", ha="left", va="center", color="#222222")

# Parity legend
ov.add_patch(Rectangle((138, 272), 71, 53, fill=False, ec="#111111", lw=1.0))
ov.text(174, 278.5, "Parity", fontsize=6.1, fontweight="bold", ha="center", va="center", color="#222222")
for i, pl in enumerate(PARITY_LABELS):
    y = 293 + i * 10.6
    ov.plot([147, 184], [y, y], color="black", lw=2.1, linestyle=PARITY_LS[i])
    ov.text(193, y, pl, fontsize=6.1, fontweight="bold", ha="left", va="center", color="#222222")

# CountryDiet legend
ov.add_patch(Rectangle((621, 102), 392, 64, fill=False, ec="#222222", lw=1.0))
ov.text(817, 108.5, "CountryDiet", fontsize=6.4, fontweight="bold", ha="center", va="center", color="#222222")
COL_OF = [0, 0, 0, 1, 1, 1, 2, 2, 2, 2]
ROW_OF = [0, 1, 2, 0, 1, 2, 0, 1, 2, 3]
LINE_X = [629, 758, 888]
TEXT_X = [676, 804, 933]
for d, diet in enumerate(DIETS):
    y = 123.5 + ROW_OF[d] * 10.7
    x0 = LINE_X[COL_OF[d]]
    lw = 3.5 if diet == "IE Std" else 2.1
    ov.plot([x0, x0 + 38], [y, y], color=COUNTRY_COLOR[DIET_COUNTRY[d]], lw=lw, linestyle=LS[DIET_STYLE[d]])
    ov.text(TEXT_X[COL_OF[d]], y, diet, fontsize=6.4, fontweight="bold", ha="left", va="center", color="#222222")

fig.savefig("out.png", dpi=100)
